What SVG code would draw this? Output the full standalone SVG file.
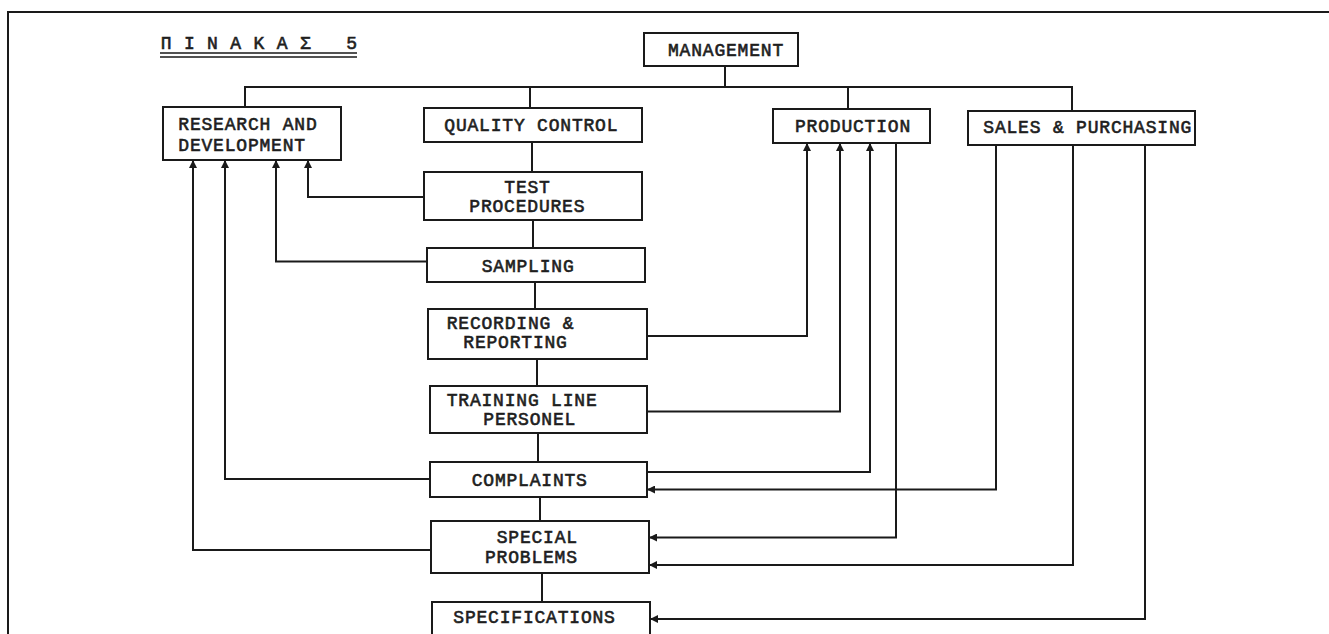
<svg xmlns="http://www.w3.org/2000/svg" width="1329" height="634" viewBox="0 0 1329 634">
<defs>
<style>
.box{fill:#fff;stroke:#1a1a1a;stroke-width:2}
.ln{fill:none;stroke:#1a1a1a;stroke-width:2}
.t{font-family:"Liberation Mono","DejaVu Sans Mono",monospace;font-size:18px;font-weight:normal;letter-spacing:0.8px;fill:#1e1e1e;stroke:#1e1e1e;stroke-width:0.6px}
</style>
<marker id="ah" viewBox="0 0 10 10" refX="10" refY="5" markerWidth="9" markerHeight="8" markerUnits="userSpaceOnUse" orient="auto">
<path d="M0,0 L10,5 L0,10 z" fill="#1a1a1a"/>
</marker>
</defs>
<rect x="0" y="0" width="1329" height="634" fill="#fff"/>
<g id="frame">
<path class="ln" d="M8,640 V12 H1329"/>
</g>
<g id="title">
<text class="t" x="160.7" y="49">Π&#160;Ι&#160;Ν&#160;Α&#160;Κ&#160;Α&#160;Σ&#160;&#160;&#160;5</text>
<path class="ln" d="M160,53 H357 M160,57 H357" style="stroke-width:1.6"/>
</g>
<g id="connectors">
<path class="ln" d="M245,107 V87 H1072 V111"/>
<path class="ln" d="M725,66 V87"/>
<path class="ln" d="M530,87 V108"/>
<path class="ln" d="M848,87 V109"/>
<path class="ln" d="M532,142 V172"/>
<path class="ln" d="M533,220 V248"/>
<path class="ln" d="M535,282 V309"/>
<path class="ln" d="M537,359 V386"/>
<path class="ln" d="M538,433 V462"/>
<path class="ln" d="M540,497 V521"/>
<path class="ln" d="M542,573 V602"/>
<path class="ln" d="M424,197 H308 V160" marker-end="url(#ah)"/>
<path class="ln" d="M427,261.5 H276 V160" marker-end="url(#ah)"/>
<path class="ln" d="M430,479 H225 V160" marker-end="url(#ah)"/>
<path class="ln" d="M431,550 H193 V160" marker-end="url(#ah)"/>
<path class="ln" d="M647,336 H807 V143" marker-end="url(#ah)"/>
<path class="ln" d="M647,411.5 H840 V143" marker-end="url(#ah)"/>
<path class="ln" d="M647,472 H870 V143" marker-end="url(#ah)"/>
<path class="ln" d="M896,143 V537.5 H649" marker-end="url(#ah)"/>
<path class="ln" d="M996,145 V489.5 H647" marker-end="url(#ah)"/>
<path class="ln" d="M1073,145 V565 H649" marker-end="url(#ah)"/>
<path class="ln" d="M1145,145 V619 H650" marker-end="url(#ah)"/>
</g>
<g id="management">
<rect class="box" x="644" y="33" width="154" height="33"/>
<text class="t" x="668" y="56">MANAGEMENT</text>
</g>
<g id="research">
<rect class="box" x="163" y="107" width="178" height="53"/>
<text class="t" x="178.3" y="130">RESEARCH AND</text>
<text class="t" x="178.3" y="151">DEVELOPMENT</text>
</g>
<g id="quality-control">
<rect class="box" x="424" y="108" width="218" height="34"/>
<text class="t" x="444.3" y="131">QUALITY CONTROL</text>
</g>
<g id="production">
<rect class="box" x="773" y="109" width="157" height="34"/>
<text class="t" x="795" y="131.7">PRODUCTION</text>
</g>
<g id="sales">
<rect class="box" x="968" y="111" width="227" height="34"/>
<text class="t" x="983.3" y="133">SALES &amp; PURCHASING</text>
</g>
<g id="test-procedures">
<rect class="box" x="424" y="172" width="218" height="48"/>
<text class="t" x="504.3" y="193.3">TEST</text>
<text class="t" x="469.3" y="211.7">PROCEDURES</text>
</g>
<g id="sampling">
<rect class="box" x="427" y="248" width="218" height="34"/>
<text class="t" x="481.7" y="271.7">SAMPLING</text>
</g>
<g id="recording">
<rect class="box" x="428" y="309" width="219" height="50"/>
<text class="t" x="446.7" y="329.3">RECORDING &amp;</text>
<text class="t" x="463.3" y="347.7">REPORTING</text>
</g>
<g id="training">
<rect class="box" x="430" y="386" width="217" height="47"/>
<text class="t" x="446.7" y="405.7">TRAINING LINE</text>
<text class="t" x="483.3" y="425">PERSONEL</text>
</g>
<g id="complaints">
<rect class="box" x="430" y="462" width="217" height="35"/>
<text class="t" x="471.7" y="486">COMPLAINTS</text>
</g>
<g id="special-problems">
<rect class="box" x="431" y="521" width="218" height="52"/>
<text class="t" x="496.7" y="543.3">SPECIAL</text>
<text class="t" x="485" y="562.7">PROBLEMS</text>
</g>
<g id="specifications">
<rect class="box" x="432" y="602" width="218" height="40"/>
<text class="t" x="453.3" y="623.3">SPECIFICATIONS</text>
</g>
</svg>
